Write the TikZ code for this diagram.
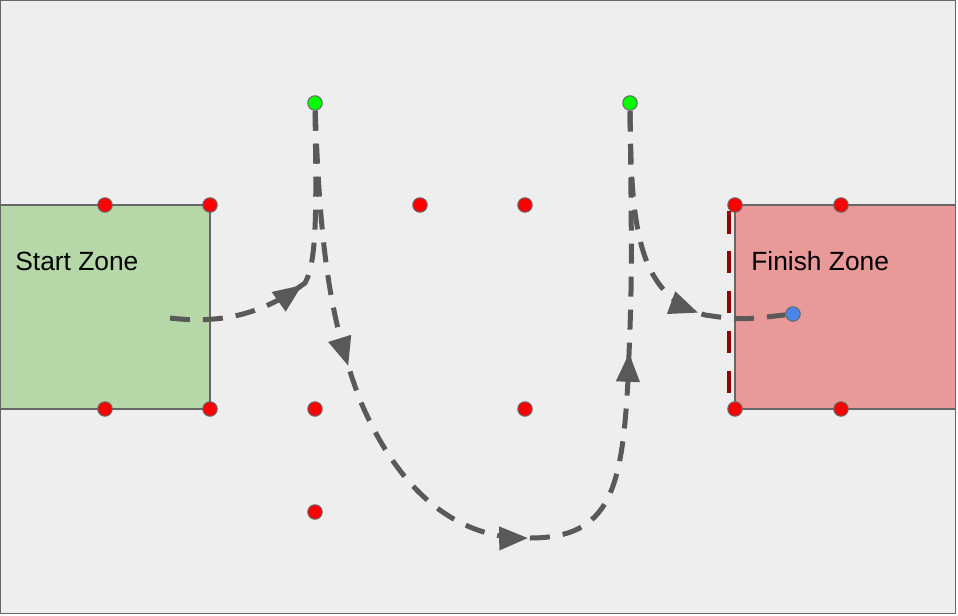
\documentclass[tikz,border=0pt]{standalone}
\usepackage{fontspec}
\setmainfont{Liberation Sans}
\usetikzlibrary{arrows}
\usetikzlibrary{decorations.markings}

\definecolor{canvas}{HTML}{EEEEEE}
\definecolor{startgreen}{HTML}{B6D7A8}
\definecolor{finishpink}{HTML}{EA9999}
\definecolor{routegray}{HTML}{595959}
\definecolor{edgegray}{HTML}{666666}
\definecolor{gatered}{HTML}{990000}
\definecolor{robotblue}{HTML}{4A86E8}
\definecolor{limegreen}{HTML}{00FF00}

\begin{document}
\begin{tikzpicture}[x=0.02cm, y=-0.02cm, line join = round, >=triangle 45]
\tikzstyle{cone}=[fill=red, circle, draw=edgegray, line width=0.02cm, inner sep=0, minimum size=0.29cm]
\tikzstyle{turn}=[cone, fill=limegreen]
\tikzstyle{robot}=[cone, fill=robotblue]
\tikzstyle{zone}=[draw=edgegray, line width=0.025cm]
\tikzstyle{route}=[line width=0.1cm, draw=routegray, dash pattern=on 0.4cm off 0.26cm, line cap=butt]
\tikzstyle{midarrow}=[postaction={decorate, decoration={markings, mark=at position #1 with {\arrow{triangle 45}}}}]
\useasboundingbox (0,0) rectangle (958,616);
\draw[edgegray, fill=canvas, line width=0.025cm] (0.5,0.5) rectangle (955.5,613.5);

% zones
\draw[zone, fill=startgreen] (0,205) rectangle (210,409);
\draw[zone, fill=finishpink] (735,205) rectangle (955.5,409);
\node[anchor=base west, inner sep=0, font=\fontsize{15pt}{18pt}\selectfont] (startlabel) at (15,270) {Start Zone};
\node[anchor=base west, inner sep=0, font=\fontsize{15pt}{18pt}\selectfont] (finishlabel) at (751,270) {Finish Zone};
\draw[gatered, line width=0.09cm, dash pattern=on 0.45cm off 0.35cm] (729,211) -- (729,393);

% cones
\node[cone] (A1) at (105,205) {};
\node[cone] (A2) at (210,205) {};
\node[cone] (A3) at (420,205) {};
\node[cone] (A4) at (525,205) {};
\node[cone] (A5) at (735,205) {};
\node[cone] (A6) at (841,205) {};
\node[cone] (B1) at (105,409) {};
\node[cone] (B2) at (210,409) {};
\node[cone] (B3) at (315,409) {};
\node[cone] (B4) at (525,409) {};
\node[cone] (B5) at (735,409) {};
\node[cone] (B6) at (841,409) {};
\node[cone] (C1) at (315,512) {};
\node[turn] (G1) at (315,103) {};
\node[turn] (G2) at (630,103) {};
\node[robot] (R) at (793,314) {};
\coordinate (S) at (170,318);

% route
\draw[route, midarrow=0.44] (S) .. controls (235,326) and (275,305) .. (305,283) .. controls (318,260) and (316,200) .. (G1);
\draw[route, midarrow=0.255, midarrow=0.52, midarrow=0.76] (G1) .. controls (320,250) and (330,320) .. (360,400) .. controls (400,495) and (460,540) .. (530,538) .. controls (610,538) and (622,490) .. (628,380) .. controls (632,280) .. (G2);
\draw[route, midarrow=0.72] (G2) .. controls (631,230) and (638,295) .. (705,315) .. controls (740,320) .. (R);
\end{tikzpicture}
\end{document}
